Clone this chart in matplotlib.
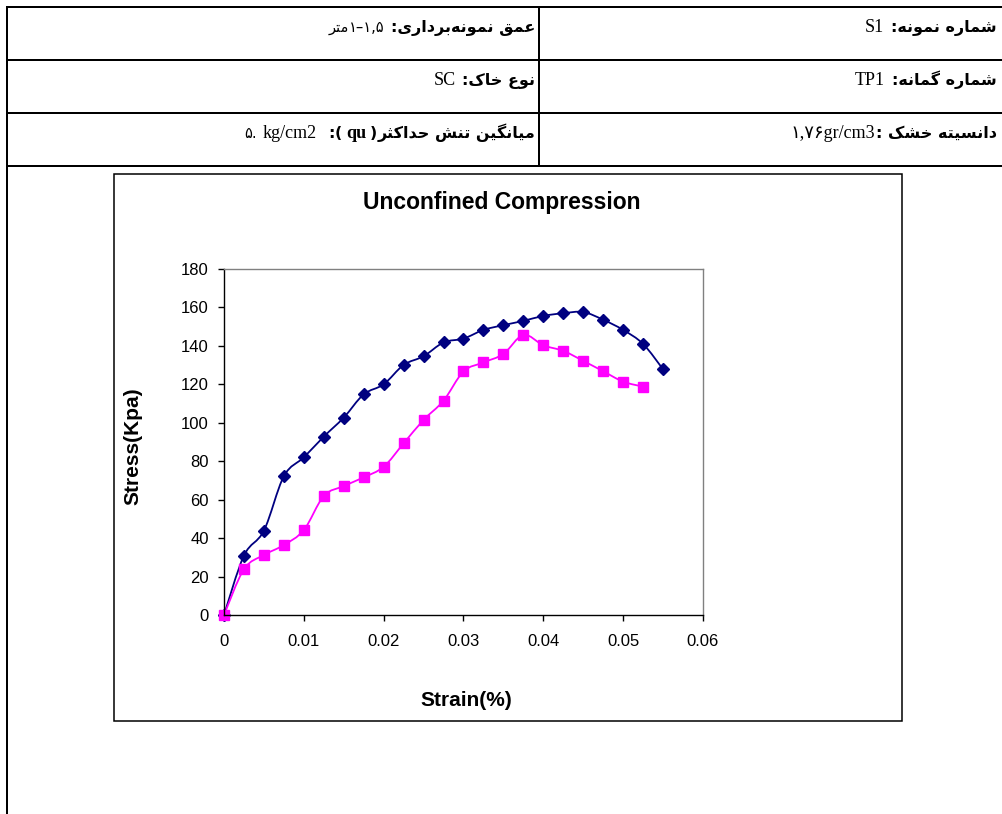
import numpy as np
import matplotlib
matplotlib.use("Agg")
import matplotlib.pyplot as plt
from matplotlib.lines import Line2D
from matplotlib.patches import Rectangle, PathPatch
from matplotlib.path import Path

W, H = 1003, 814

# unconfined compression readings, sample S1 (two specimens)
strain_1 = [0.0, 0.0025, 0.005, 0.0075, 0.01, 0.0125, 0.015, 0.0175, 0.02, 0.0225,
            0.025, 0.0275, 0.03, 0.0325, 0.035, 0.0375, 0.04, 0.0425, 0.045, 0.0475,
            0.05, 0.0525, 0.055]
stress_1 = [0, 30.9, 43.9, 72.2, 82.0, 92.8, 102.7, 114.8, 120.0, 130.1,
            134.6, 141.8, 143.8, 148.3, 150.8, 153.0, 155.6, 157.0, 157.6, 153.6,
            148.3, 141.0, 127.8]
strain_2 = [0.0, 0.0025, 0.005, 0.0075, 0.01, 0.0125, 0.015, 0.0175, 0.02, 0.0225,
            0.025, 0.0275, 0.03, 0.0325, 0.035, 0.0375, 0.04, 0.0425, 0.045, 0.0475,
            0.05, 0.0525]
stress_2 = [0, 23.8, 31.2, 36.4, 44.2, 61.9, 67.1, 71.6, 77.1, 89.3,
            101.5, 111.5, 126.7, 131.4, 135.8, 145.7, 140.3, 137.4, 132.2, 126.8,
            121.4, 118.8]

x_ticks = [0, 0.01, 0.02, 0.03, 0.04, 0.05, 0.06]
x_tick_labels = ["0", "0.01", "0.02", "0.03", "0.04", "0.05", "0.06"]
y_ticks = [0, 20, 40, 60, 80, 100, 120, 140, 160, 180]

# header cells: (persian label, value)
cells_right = [("شماره نمونه:", "S1"), ("شماره گمانه:", "TP1"), ("دانسیته خشک :", "۱,۷۶gr/cm3")]
cells_left = [("عمق نمونه\u200cبرداری:", "۱–۱,۵"), ("نوع خاک:", "SC"),
              ("میانگین تنش حداکثر", "kg/cm2")]

plt.rcParams["font.family"] = ["Liberation Sans", "DejaVu Sans"]

# contextual forms: isolated, final, initial, medial
FORMS = {
    "ا": ("\uFE8D", "\uFE8E", None, None),
    "ب": ("\uFE8F", "\uFE90", "\uFE91", "\uFE92"),
    "ت": ("\uFE95", "\uFE96", "\uFE97", "\uFE98"),
    "ث": ("\uFE99", "\uFE9A", "\uFE9B", "\uFE9C"),
    "ج": ("\uFE9D", "\uFE9E", "\uFE9F", "\uFEA0"),
    "ح": ("\uFEA1", "\uFEA2", "\uFEA3", "\uFEA4"),
    "خ": ("\uFEA5", "\uFEA6", "\uFEA7", "\uFEA8"),
    "د": ("\uFEA9", "\uFEAA", None, None),
    "ذ": ("\uFEAB", "\uFEAC", None, None),
    "ر": ("\uFEAD", "\uFEAE", None, None),
    "ز": ("\uFEAF", "\uFEB0", None, None),
    "س": ("\uFEB1", "\uFEB2", "\uFEB3", "\uFEB4"),
    "ش": ("\uFEB5", "\uFEB6", "\uFEB7", "\uFEB8"),
    "ع": ("\uFEC9", "\uFECA", "\uFECB", "\uFECC"),
    "ف": ("\uFED1", "\uFED2", "\uFED3", "\uFED4"),
    "ق": ("\uFED5", "\uFED6", "\uFED7", "\uFED8"),
    "ل": ("\uFEDD", "\uFEDE", "\uFEDF", "\uFEE0"),
    "م": ("\uFEE1", "\uFEE2", "\uFEE3", "\uFEE4"),
    "ن": ("\uFEE5", "\uFEE6", "\uFEE7", "\uFEE8"),
    "ه": ("\uFEE9", "\uFEEA", "\uFEEB", "\uFEEC"),
    "و": ("\uFEED", "\uFEEE", None, None),
    "ی": ("\uFBFC", "\uFBFD", "\uFBFE", "\uFBFF"),
    "ک": ("\uFB8E", "\uFB8F", "\uFB90", "\uFB91"),
    "گ": ("\uFB92", "\uFB93", "\uFB94", "\uFB95"),
}


def fa(text):
    """Shape persian letters and return them in left-to-right drawing order."""
    out = []
    for i, c in enumerate(text):
        if c not in FORMS:
            if c != "\u200c":
                out.append(c)
            continue
        prev = text[i - 1] if i > 0 else ""
        nxt = text[i + 1] if i + 1 < len(text) else ""
        link_prev = prev in FORMS and FORMS[prev][2] is not None
        link_next = nxt in FORMS and FORMS[c][2] is not None
        iso, fin, ini, med = FORMS[c]
        if link_prev and link_next:
            out.append(med)
        elif link_prev:
            out.append(fin)
        elif link_next:
            out.append(ini)
        else:
            out.append(iso)
    return "".join(reversed(out))


def smooth_path(x, y):
    x = np.asarray(x, float)
    y = np.asarray(y, float)
    n = len(x)
    verts = [(x[0], y[0])]
    codes = [Path.MOVETO]
    for i in range(n - 1):
        a = max(i - 1, 0)
        b = min(i + 2, n - 1)
        c1 = (x[i] + (x[i + 1] - x[a]) / 6, y[i] + (y[i + 1] - y[a]) / 6)
        c2 = (x[i + 1] - (x[b] - x[i]) / 6, y[i + 1] - (y[b] - y[i]) / 6)
        verts += [c1, c2, (x[i + 1], y[i + 1])]
        codes += [Path.CURVE4] * 3
    return Path(verts, codes)


def fx(x):
    return x / W


def fy(y):
    return 1 - y / H


fig = plt.figure(figsize=(W / 100, H / 100), dpi=100)

# table grid
lw_tab = 2.0 * 72 / 100
for yy in [6.5, 60, 113, 166]:
    fig.add_artist(Line2D([fx(7), fx(W)], [fy(yy), fy(yy)], color="black", lw=lw_tab))
fig.add_artist(Line2D([fx(7), fx(7)], [fy(6.5), fy(H)], color="black", lw=lw_tab))
fig.add_artist(Line2D([fx(539), fx(539)], [fy(6.5), fy(166)], color="black", lw=lw_tab))

renderer = fig.canvas.get_renderer()
bold_fa = dict(family="DejaVu Sans", fontweight="bold", fontsize=11.5)
small_fa = dict(family="DejaVu Sans", fontsize=10.5)
serif = dict(family=["Liberation Serif", "DejaVu Sans"], fontsize=13)
serif_bold = dict(family="Liberation Serif", fontsize=13, fontweight="bold")


def put_row(x_right, y, parts):
    x = x_right
    for s, kw, gap in parts:
        t = fig.text(fx(x), fy(y), s, ha="right", va="baseline", **kw)
        x -= t.get_window_extent(renderer).width + gap


row_base = [32, 85, 138]
gaps = [7, 7, 1]
for (lab, val), yb, g in zip(cells_right, row_base, gaps):
    put_row(997, yb, [(fa(lab), bold_fa, g), (val, serif, 0)])

put_row(535, row_base[0], [(fa(cells_left[0][0]), bold_fa, 6),
                           (cells_left[0][1], small_fa, 0),
                           (fa("متر"), small_fa, 0)])
put_row(535, row_base[1], [(fa(cells_left[1][0]), bold_fa, 6), (cells_left[1][1], serif, 0)])
put_row(535, row_base[2], [(fa(cells_left[2][0]), bold_fa, 0),
                           (")", bold_fa, 4),
                           ("qu", serif_bold, 4),
                           ("(", bold_fa, 0),
                           (":", bold_fa, 12),
                           (cells_left[2][1], serif, 5),
                           ("۵.", small_fa, 0)])

# chart frame
fig.add_artist(Rectangle((fx(114), fy(721)), fx(902) - fx(114), fy(174) - fy(721),
                         fill=False, edgecolor="black", lw=1.1))

ax = fig.add_axes([fx(224), fy(615), fx(703) - fx(224), fy(269) - fy(615)])
ax.add_patch(PathPatch(smooth_path(strain_1, stress_1), fill=False, edgecolor="#000080", lw=1.3))
ax.plot(strain_1, stress_1, ls="none", marker="D", ms=6.5, color="#000080")
ax.add_patch(PathPatch(smooth_path(strain_2, stress_2), fill=False, edgecolor="#FF00FF", lw=1.3))
ax.plot(strain_2, stress_2, ls="none", marker="s", ms=6.5, color="#FF00FF")

ax.set_xlim(0, 0.06)
ax.set_ylim(0, 180)
ax.set_xticks(x_ticks)
ax.set_xticklabels(x_tick_labels)
ax.set_yticks(y_ticks)
ax.tick_params(axis="both", direction="out", length=4, width=1, labelsize=12)
ax.tick_params(axis="x", pad=10)
ax.tick_params(axis="y", pad=7)
for s in ["left", "bottom"]:
    ax.spines[s].set_color("black")
for s in ["top", "right"]:
    ax.spines[s].set_color("#808080")
for sp in ax.spines.values():
    sp.set_linewidth(1)
for p in ax.patches + ax.lines:
    p.set_clip_on(False)

fig.text(fx(502), fy(202), "Unconfined Compression", ha="center", va="center",
         fontsize=16.5, fontweight="bold")
fig.text(fx(466), fy(701), "Strain(%)", ha="center", va="center", fontsize=15, fontweight="bold")
fig.text(fx(133), fy(446), "Stress(Kpa)", ha="center", va="center", rotation=90,
         fontsize=15, fontweight="bold")

fig.savefig("out.png", dpi=100)
